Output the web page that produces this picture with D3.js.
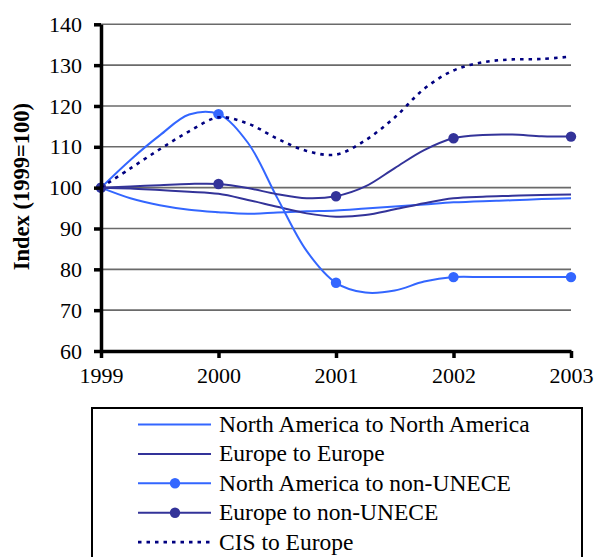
<!DOCTYPE html>
<html>
<head>
<meta charset="utf-8">
<script src="https://cdn.jsdelivr.net/npm/d3@7"></script>
<style>
  html, body { margin: 0; padding: 0; background: #fff; }
  svg { display: block; }
  svg text { font-family: "Liberation Serif", "Times New Roman", Times, "DejaVu Serif", serif !important; fill: #000; }
</style>
</head>
<body>
<div id="chart"></div>
<script>
// ---- data ----
const periods = [1999, 1999.25, 1999.5, 1999.75, 2000, 2000.25, 2000.5, 2000.75, 2001,
                 2001.25, 2001.5, 2001.75, 2002, 2002.25, 2002.5, 2002.75, 2003];
const markerYears = [1999, 2000, 2001, 2002, 2003];
const yTicks = [60, 70, 80, 90, 100, 110, 120, 130, 140];
const xTicks = [1999, 2000, 2001, 2002, 2003];

const naToNa        = [100, 97.4, 95.7, 94.6, 94.0, 93.6, 93.9, 94.2, 94.4, 94.9, 95.4, 95.9, 96.4, 96.7, 96.9, 97.2, 97.4];
const euToEu        = [100, 99.8, 99.4, 99.0, 98.5, 97.0, 95.3, 93.7, 92.9, 93.3, 94.7, 96.2, 97.4, 97.8, 98.0, 98.2, 98.3];
const naToNonUnece  = [100, 106.8, 112.8, 117.9, 118.0, 111.0, 97.5, 84.5, 76.7, 74.3, 74.8, 77.0, 78.1, 78.1, 78.1, 78.1, 78.1];
const euToNonUnece  = [100, 100.3, 100.6, 100.9, 100.9, 99.9, 98.4, 97.4, 97.9, 100.3, 104.8, 109.2, 112.1, 112.9, 113.0, 112.6, 112.5];
const cisToEurope   = [100, 104.7, 109.4, 113.8, 117.2, 115.7, 112.0, 109.0, 108.1, 111.6, 117.2, 124.2, 128.7, 130.7, 131.4, 131.5, 132.1];

const seriesNames = ["North America to North America", "Europe to Europe",
                     "North America to non-UNECE", "Europe to non-UNECE", "CIS to Europe"];
const seriesValues = [naToNa, euToEu, naToNonUnece, euToNonUnece, cisToEurope];
const seriesColors = ["#3366ff", "#333399", "#3366ff", "#333399", "#000080"];
const seriesMarkers = [false, false, true, true, false];
const seriesDashed = [false, false, false, false, true];

// ---- chart ----
const W = 594, H = 557;
const svg = d3.select("#chart").append("svg").attr("width", W).attr("height", H);

const x = d3.scaleLinear().domain([1999, 2003]).range([101, 571]);
const y = d3.scaleLinear().domain([60, 140]).range([351, 24.3]);

// gridlines
svg.append("g").selectAll("line").data(yTicks.filter(d => d > 60)).join("line")
  .attr("x1", x(1999)).attr("x2", x(2003))
  .attr("y1", d => y(d)).attr("y2", d => y(d))
  .attr("stroke", "#6a6a6a").attr("stroke-width", 1.6);

// series
const line = d3.line().x(d => x(d[0])).y(d => y(d[1])).curve(d3.curveCatmullRom.alpha(0.5));
seriesValues.forEach((vals, i) => {
  const pts = periods.map((p, j) => [p, vals[j]]);
  const path = svg.append("path").datum(pts)
    .attr("d", line).attr("fill", "none")
    .attr("stroke", seriesColors[i])
    .attr("stroke-width", seriesDashed[i] ? 2.6 : 2);
  if (seriesDashed[i]) path.attr("stroke-dasharray", "3.5,5");
  if (seriesMarkers[i]) {
    svg.append("g").selectAll("circle")
      .data(pts.filter(d => markerYears.includes(d[0]))).join("circle")
      .attr("cx", d => x(d[0])).attr("cy", d => y(d[1])).attr("r", 5.2)
      .attr("fill", seriesColors[i]);
  }
});

// axes
const xAxis = svg.append("g").attr("transform", `translate(0,${y(60)})`)
  .call(d3.axisBottom(x).tickValues(xTicks).tickFormat(d3.format("d")).tickSize(7).tickSizeOuter(0).tickPadding(9));
const yAxis = svg.append("g").attr("transform", `translate(${x(1999)},0)`)
  .call(d3.axisLeft(y).tickValues(yTicks).tickSize(7).tickSizeOuter(0).tickPadding(12));
[xAxis, yAxis].forEach(g => {
  g.attr("font-family", null);
  g.select(".domain").attr("stroke", "#000").attr("stroke-width", 3.5);
  g.selectAll(".tick line").attr("stroke", "#000").attr("stroke-width", 3.5);
  g.selectAll(".tick text").attr("font-size", 22).attr("fill", "#000");
});

// y-axis title
svg.append("text")
  .attr("transform", `translate(29,${y(100) - 1}) rotate(-90)`)
  .attr("text-anchor", "middle")
  .attr("font-size", 22.5).attr("font-weight", "bold")
  .text("Index (1999=100)");

// legend
const legend = svg.append("g");
legend.append("rect").attr("x", 92).attr("y", 408).attr("width", 490).attr("height", 170)
  .attr("fill", "#fff").attr("stroke", "#000").attr("stroke-width", 2);
seriesNames.forEach((name, i) => {
  const ly = 424.5 + i * 29.4;
  const l = legend.append("line").attr("x1", 138).attr("x2", 211).attr("y1", ly).attr("y2", ly)
    .attr("stroke", seriesColors[i]).attr("stroke-width", seriesDashed[i] ? 2.6 : 2);
  if (seriesDashed[i]) l.attr("stroke-dasharray", "3.5,5");
  if (seriesMarkers[i]) legend.append("circle").attr("cx", 175).attr("cy", ly).attr("r", 5.2).attr("fill", seriesColors[i]);
  legend.append("text").attr("x", 219).attr("y", ly + 7.5).attr("font-size", 23.5).text(name);
});
</script>
</body>
</html>
